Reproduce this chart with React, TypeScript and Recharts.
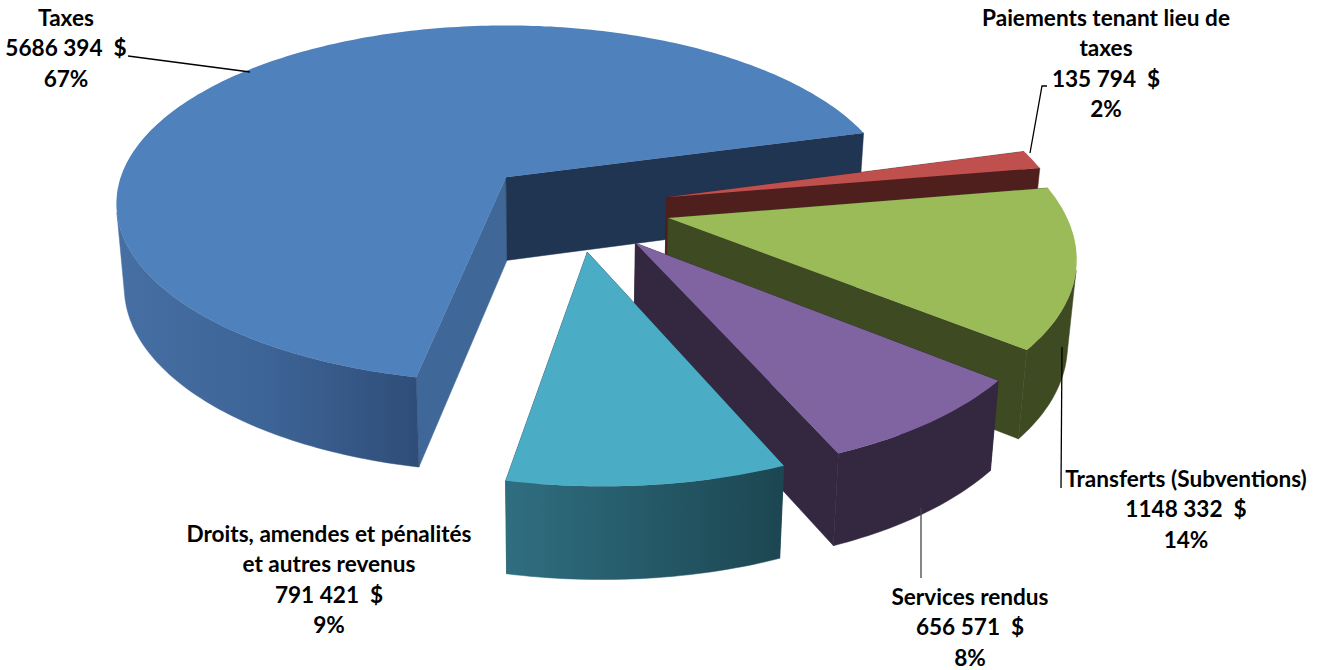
import React from 'react';
import { PieChart, Pie, Cell } from 'recharts';

// painted back to front, the pie runs clockwise from Taxes
const categories = ['Taxes', 'Paiements tenant lieu de taxes', 'Transferts (Subventions)', 'Services rendus', 'Droits, amendes et pénalités et autres revenus'];
const amounts = [5686394, 135794, 1148332, 656571, 791421];
const percentLabels = ['67%', '2%', '14%', '8%', '9%'];
const nameLines = [
  ['Taxes'],
  ['Paiements tenant lieu de', 'taxes'],
  ['Transferts (Subventions)'],
  ['Services rendus'],
  ['Droits, amendes et pénalités', 'et autres revenus'],
];

const topColors = ['#4F81BD', '#C0504D', '#9BBB59', '#8064A2', '#4BACC6'];
const curveFills = ['url(#taxesWall)', '#4F1F1E', '#3E4A22', '#33283F', 'url(#droitsWall)'];
const startWallColors = ['#3F6797', '#4F1F1E', '#3E4A22', '#33283F', '#1D4752'];
const endWallColors = ['#1F3552', '#4F1F1E', '#3E4A22', '#33283F', '#1D4752'];

// label centre x, first line centre y
const labelSpots = [
  [66, 19],
  [1106, 19],
  [1186, 480],
  [970, 598],
  [329, 535],
];
const leaders = [
  '128,56 250,72',
  '1047,86 1042,86 1030,153',
  '1062,347 1061,488',
  '921,508 921,578',
  '',
];

// camera model for the tilted pie
const TILT = 0.4528;
const PERSPECTIVE = 0.1485;
const DEPTH = 83;
const EXPLODE = 0.24;
const CONVERGE = 0.018;
const VANISH_X = 560;
const SHIFT_X = 0.178;
const SHIFT_Y = -0.16;

const rad = (a: number) => (a * Math.PI) / 180;
const toPoints = (pts: number[][]) => pts.map((p) => `${p[0].toFixed(1)},${p[1].toFixed(1)}`).join(' ');

const SliceShape = (props: any) => {
  const { cx, cy, outerRadius, startAngle, endAngle, midAngle, index } = props;
  const a0 = Math.min(startAngle, endAngle);
  const a1 = Math.max(startAngle, endAngle);
  const ox = SHIFT_X + EXPLODE * Math.cos(rad(midAngle));
  const oy = SHIFT_Y + EXPLODE * Math.sin(rad(midAngle));

  const project = (X: number, Y: number, down: boolean) => {
    const s = 1 / (1 + PERSPECTIVE * Y);
    let x = cx + outerRadius * X * s;
    let y = cy - outerRadius * TILT * Y * s;
    if (down) {
      y += DEPTH * Math.sqrt(s);
      x -= CONVERGE * (x - VANISH_X);
    }
    return [x, y];
  };
  const rim = (a: number, down: boolean) => project(ox + Math.cos(rad(a)), oy + Math.sin(rad(a)), down);
  const apex = (down: boolean) => project(ox, oy, down);

  const angles: number[] = [];
  for (let a = a0; a < a1; a += 1) angles.push(a);
  angles.push(a1);

  // only the part of the curved side that faces the viewer
  const seen: number[] = [];
  for (let i = 0; i < angles.length - 1; i++) {
    const quad = [rim(angles[i], false), rim(angles[i + 1], false), rim(angles[i + 1], true), rim(angles[i], true)];
    let area = 0;
    quad.forEach((p, j) => {
      const q = quad[(j + 1) % 4];
      area += p[0] * q[1] - q[0] * p[1];
    });
    if (area > 0) {
      if (seen.length === 0) seen.push(angles[i]);
      seen.push(angles[i + 1]);
    }
  }
  const curve = [...seen.map((a) => rim(a, false)), ...[...seen].reverse().map((a) => rim(a, true))];

  const wallA = index === 0 ? startWallColors[0] : endWallColors[index];
  const wallB = index === 0 ? endWallColors[0] : startWallColors[index];

  return (
    <g>
      <polygon points={toPoints([apex(false), rim(a1, false), rim(a1, true), apex(true)])} fill={wallA} stroke={wallA} strokeWidth={0.5} />
      <polygon points={toPoints([apex(false), rim(a0, false), rim(a0, true), apex(true)])} fill={wallB} stroke={wallB} strokeWidth={0.5} />
      {curve.length > 0 && <polygon points={toPoints(curve)} fill={curveFills[index]} stroke={curveFills[index]} strokeWidth={0.5} />}
      <polygon points={toPoints([apex(false), ...angles.map((a) => rim(a, false))])} fill={topColors[index]} />
    </g>
  );
};

const formatAmount = (v: number) => {
  const s = String(v);
  return `${s.slice(0, -3)} ${s.slice(-3)}\u00a0\u00a0$`;
};

const SliceLabel = (props: any) => {
  const { index } = props;
  const [x, y] = labelSpots[index];
  const lines = [...nameLines[index], formatAmount(amounts[index]), percentLabels[index]];
  return (
    <g>
      {leaders[index] && <polyline points={leaders[index]} fill="none" stroke={index === 3 ? '#444444' : '#000000'} strokeWidth={1.3} />}
      <text x={x} y={y} textAnchor="middle" fontFamily="Lato, sans-serif" fontWeight={700} fontSize={22.6} fill="#000000">
        {lines.map((line, i) => (
          <tspan key={i} x={x} y={y + 7 + i * 30.4}>{line}</tspan>
        ))}
      </text>
    </g>
  );
};

const tableData = categories.map((name, i) => ({ name, value: amounts[i] }));

export default function App() {
  return (
    <div style={{ position: 'absolute', left: 0, top: 0, width: 1331, height: 670, background: '#ffffff' }}>
      <PieChart width={1331} height={670} margin={{ top: 0, right: 0, bottom: 0, left: 0 }}>
        <defs>
          <linearGradient id="taxesWall" gradientUnits="userSpaceOnUse" x1="116" y1="0" x2="420" y2="0">
            <stop offset="0%" stopColor="#466FA4" />
            <stop offset="50%" stopColor="#3D6496" />
            <stop offset="100%" stopColor="#2F4D78" />
          </linearGradient>
          <linearGradient id="droitsWall" gradientUnits="userSpaceOnUse" x1="507" y1="0" x2="783" y2="0">
            <stop offset="0%" stopColor="#2F6E80" />
            <stop offset="100%" stopColor="#1C4651" />
          </linearGradient>
        </defs>
        <Pie
          data={tableData}
          dataKey="value"
          nameKey="name"
          cx={505}
          cy={178}
          innerRadius={0}
          outerRadius={385.6}
          startAngle={258.5}
          endAngle={-101.5}
          stroke="none"
          shape={SliceShape}
          label={SliceLabel}
          labelLine={false}
          isAnimationActive={false}
        >
          {tableData.map((d, i) => (
            <Cell key={d.name} fill={topColors[i]} />
          ))}
        </Pie>
      </PieChart>
    </div>
  );
}
